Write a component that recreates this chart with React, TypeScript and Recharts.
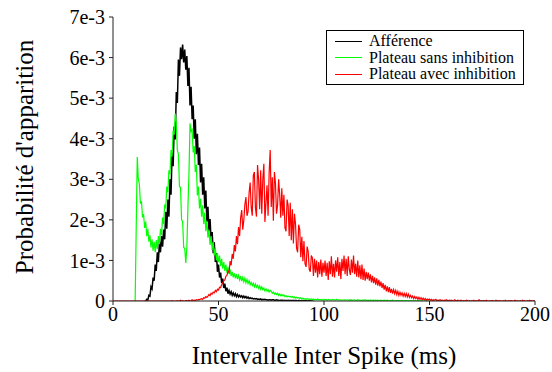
import { LineChart, Line, XAxis, YAxis, Label } from 'recharts';

const seriesNames = ['Afférence', 'Plateau sans inhibition', 'Plateau avec inhibition'];
const seriesColors = ['#000000', '#00ff00', '#ff0000'];
const seriesWidths = [1.5, 1.2, 1.2];
const xTicks = [0, 50, 100, 150, 200];
const yTicks = [0, 0.001, 0.002, 0.003, 0.004, 0.005, 0.006, 0.007];

// histogram bins are 0.5 ms wide, values in units of 1e-5
const binMs = 0.5;

const affStart = 15;
const afference = [
  0, 0, 4, 2, 14, 12, 35, 30, 58, 50,
  90, 74, 120, 96, 146, 120, 160, 134, 176, 152,
  220, 178, 250, 208, 300, 262, 366, 332, 430, 398,
  515, 488, 595, 555, 625, 596, 632, 588, 620, 570,
  604, 530, 575, 482, 528, 448, 482, 400, 448, 362,
  412, 335, 378, 292, 338, 262, 305, 228, 272, 195,
  232, 172, 202, 148, 170, 118, 145, 96, 118, 72,
  90, 58, 70, 44, 55, 32, 43, 24, 33, 18,
  26, 17, 23, 14, 20, 13, 18, 11, 16, 10,
  14, 10, 13, 8, 12, 8, 11, 7, 10, 6,
  8, 6, 7, 5, 6, 5, 6, 4, 5, 4,
  5, 3, 4, 3, 4, 3, 3, 2, 3, 3,
  2, 3, 3, 2, 2, 3, 2, 2, 1, 2,
  2, 2, 1, 2, 1, 1, 2, 1, 1, 1,
  1, 1, 1, 1, 1, 0, 1, 1, 0, 1,
  0, 1, 0, 1, 0, 0, 1, 0, 0, 0,
  0,
];

const sansStart = 10;
const plateauSans = [
  0, 0, 180, 355, 300, 288, 240, 246, 206, 214,
  180, 196, 160, 178, 146, 162, 132, 152, 124, 146,
  120, 150, 128, 160, 140, 178, 162, 206, 190, 238,
  228, 282, 268, 322, 312, 372, 356, 420, 410, 462,
  440, 372, 362, 282, 280, 200, 196, 132, 130, 94,
  132, 230, 312, 438, 418, 422, 366, 382, 318, 336,
  260, 282, 228, 252, 208, 236, 190, 218, 172, 198,
  156, 176, 138, 160, 126, 146, 112, 130, 100, 118,
  96, 112, 86, 104, 80, 96, 74, 90, 70, 84,
  66, 78, 62, 72, 58, 68, 56, 66, 54, 63,
  52, 61, 49, 58, 47, 56, 45, 53, 43, 50,
  40, 46, 38, 44, 35, 42, 34, 39, 31, 37,
  29, 35, 28, 32, 25, 30, 24, 28, 22, 26,
  24, 19, 22, 17, 20, 16, 19, 14, 17, 13,
  16, 13, 15, 11, 13, 10, 12, 10, 11, 9,
  11, 8, 10, 7, 9, 7, 8, 6, 8, 5,
  7, 5, 6, 4, 6, 4, 5, 4, 5, 3,
  5, 3, 4, 3, 5, 3, 4, 3, 4, 2,
  4, 3, 4, 2, 4, 3, 3, 2, 4, 3,
  3, 2, 4, 2, 3, 3, 2, 3, 2, 3,
  3, 2, 3, 2, 3, 1, 3, 2, 2, 3,
  2, 1, 3, 2, 2, 1, 2, 2, 1, 3,
  2, 1, 2, 1, 2, 2, 1, 2, 1, 2,
  1, 2, 1, 1, 2, 1, 1, 2, 1, 1,
  2, 1, 1, 1, 1, 2, 1, 0, 1, 1,
  1, 1, 0, 1, 1, 1, 0, 1, 1, 0,
  1, 0, 1, 1, 0, 1, 0, 1, 0, 1,
  0, 1, 0, 1, 0, 0, 1, 0, 1, 0,
  0, 1, 0, 0, 1, 0, 0, 1, 0, 0,
  0, 0, 1, 0, 0, 1, 0, 0, 0, 0,
  0,
];

const avecStart = 0;
const plateauAvec = [
  0, 0, 0, 0, 0, 0, 0, 0, 0, 0,
  0, 0, 0, 0, 0, 0, 0, 0, 0, 0,
  0, 0, 0, 0, 0, 0, 0, 0, 0, 0,
  0, 0, 0, 0, 0, 0, 0, 0, 0, 0,
  0, 0, 0, 0, 0, 0, 0, 0, 0, 0,
  0, 0, 0, 0, 0, 0, 1, 0, 0, 0,
  0, 1, 0, 0, 2, 0, 1, 0, 0, 1,
  1, 0, 2, 0, 1, 3, 0, 2, 1, 3,
  2, 4, 3, 5, 6, 4, 8, 7, 11, 9,
  12, 16, 13, 19, 17, 22, 20, 26, 23, 29,
  27, 34, 33, 40, 44, 50, 52, 61, 63, 74,
  70, 98, 88, 116, 104, 138, 122, 160, 140, 182,
  160, 205, 224, 176, 200, 238, 256, 210, 220, 266,
  292, 232, 210, 310, 318, 230, 208, 335, 300, 226,
  322, 215, 300, 338, 195, 242, 285, 210, 316, 372,
  232, 305, 198, 318, 290, 215, 236, 300, 262, 205,
  278, 210, 262, 180, 172, 250, 236, 160, 242, 150,
  226, 142, 215, 190, 130, 120, 188, 176, 108, 158,
  98, 148, 92, 84, 134, 122, 78, 72, 112, 106,
  62, 104, 70, 100, 58, 96, 66, 102, 60, 94,
  70, 100, 62, 94, 52, 98, 66, 110, 60, 92,
  58, 100, 72, 108, 62, 96, 54, 104, 74, 112,
  66, 104, 62, 110, 78, 64, 102, 70, 112, 66,
  92, 60, 100, 58, 88, 54, 90, 52, 80, 50,
  72, 54, 70, 50, 66, 46, 62, 44, 58, 40,
  56, 38, 52, 36, 48, 32, 44, 28, 40, 24,
  36, 22, 34, 20, 30, 18, 28, 18, 26, 16,
  24, 14, 22, 14, 20, 12, 19, 11, 18, 10,
  17, 9, 14, 8, 12, 6, 11, 6, 10, 4,
  9, 4, 8, 3, 7, 3, 6, 2, 5, 3,
  5, 2, 4, 1, 3, 2, 4, 1, 2, 1,
  3, 1, 2, 0, 2, 1, 3, 1, 1, 2,
  1, 2, 0, 1, 3, 0, 1, 2, 0, 1,
  2, 0, 1, 1, 0, 2, 1, 0, 1, 0,
  1, 0, 2, 0, 1, 0, 1, 3, 0, 1,
  0, 1, 1, 0, 2, 0, 0, 1, 0, 1,
  1, 0, 0, 2, 0, 1, 0, 1, 0, 0,
  1, 0, 2, 0, 0, 1, 0, 1, 1, 0,
  0, 2, 0, 1, 0, 0, 1, 0, 2, 0,
  1, 0, 0, 1, 0, 2, 0, 1, 0, 1,
  0,
];

const toPoints = (start: number, vals: number[]) =>
  vals.map((v, i) => ({ ms: start + i * binMs, p: v * 1e-5 }));

const series = [
  toPoints(affStart, afference),
  toPoints(sansStart, plateauSans),
  toPoints(avecStart, plateauAvec),
];

const serif = '"Liberation Serif", "Times New Roman", serif';

const fmtY = (v: number) => (v === 0 ? '0' : `${Math.round(v * 1000)}e-3`);

const App = () => {
  return (
    <div style={{ position: 'absolute', left: 0, top: 0, width: 552, height: 372, background: '#fff' }}>
      <LineChart width={552} height={372} margin={{ top: 17, right: 17, bottom: 0, left: 0 }}>
        <XAxis
          type='number'
          dataKey='ms'
          domain={[0, 200]}
          ticks={xTicks}
          allowDataOverflow
          height={71}
          stroke='#222'
          tickSize={4}
          tickMargin={2}
          tick={{ fontSize: 20, fill: '#000', fontFamily: serif }}
        >
          <Label
            content={() => (
              <text x={324} y={355} textAnchor='middle' dominantBaseline='central' fontSize={25} fontFamily={serif} fill='#000'>
                Intervalle Inter Spike (ms)
              </text>
            )}
          />
        </XAxis>
        <YAxis
          type='number'
          dataKey='p'
          domain={[0, 0.007]}
          ticks={yTicks}
          allowDataOverflow
          width={113}
          stroke='#222'
          tickSize={4}
          tickMargin={4}
          tickFormatter={fmtY}
          tick={{ fontSize: 20, fill: '#000', fontFamily: serif }}
        >
          <Label
            content={() => (
              <text
                x={24}
                y={157}
                transform='rotate(-90 24 157)'
                textAnchor='middle'
                dominantBaseline='central'
                fontSize={25}
                fontFamily={serif}
                fill='#000'
              >
                Probabilité d'apparition
              </text>
            )}
          />
        </YAxis>
        {series.map((pts, i) => (
          <Line
            key={seriesNames[i]}
            data={pts}
            dataKey='p'
            name={seriesNames[i]}
            type='linear'
            stroke={seriesColors[i]}
            strokeWidth={seriesWidths[i]}
            dot={false}
            activeDot={false}
            isAnimationActive={false}
          />
        ))}
      </LineChart>
      <div
        style={{
          position: 'absolute',
          left: 326,
          top: 30,
          width: 198,
          height: 55,
          boxSizing: 'border-box',
          border: '1px solid #000',
          background: '#fff',
          paddingTop: 2,
          fontFamily: serif,
          fontSize: 16,
          lineHeight: '16.5px',
        }}
      >
        {seriesNames.map((n, i) => (
          <div key={n} style={{ display: 'flex', alignItems: 'center', height: 16.5 }}>
            <span style={{ display: 'inline-block', width: 27, height: 1, background: seriesColors[i], marginLeft: 8, marginRight: 7 }} />
            <span>{n}</span>
          </div>
        ))}
      </div>
    </div>
  );
};

export default App;
